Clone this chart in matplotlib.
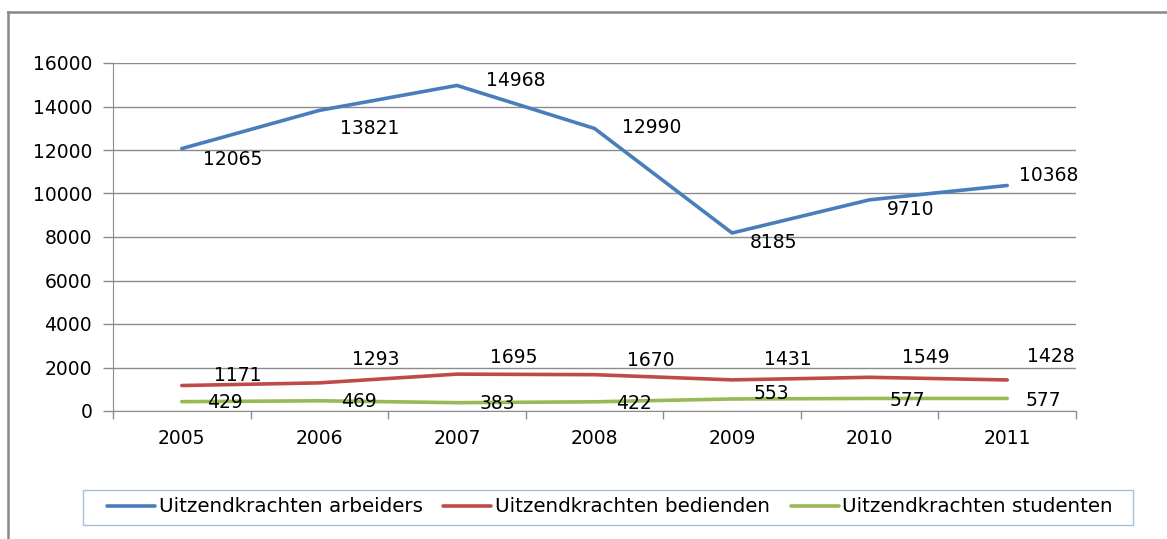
import matplotlib.pyplot as plt
from matplotlib.lines import Line2D
from matplotlib.patches import Rectangle

# data
years = ["2005", "2006", "2007", "2008", "2009", "2010", "2011"]
arbeiders = [12065, 13821, 14968, 12990, 8185, 9710, 10368]
bedienden = [1171, 1293, 1695, 1670, 1431, 1549, 1428]
studenten = [429, 469, 383, 422, 553, 577, 577]

# label offsets in pixels (dx, dy), dy positive = up
off_arb = [(51, -11), (50, -18), (59, 5), (57, 1), (41, -10), (41, -10), (41, 10)]
off_bed = [(56, 10), (56, 23), (57, 17), (56, 14), (56, 20), (56, 20), (44, 23)]
off_stu = [(43, -1), (40, -1), (40, -1), (39, -2), (39, 5), (38, -2), (36, -2)]

blue = "#4a7ebb"
red = "#be4b48"
green = "#98b954"
grid_col = "#8c8c8c"
fs = 13.5

plt.rcParams['font.family'] = ['DejaVu Sans']

fig = plt.figure(figsize=(11.67, 5.39), dpi=100)
ax = fig.add_axes([113 / 1167, 1 - 411 / 539, (1076 - 113) / 1167, 348 / 539])

x = list(range(len(years)))
series = [
    ("Uitzendkrachten arbeiders", arbeiders, blue, off_arb),
    ("Uitzendkrachten bedienden", bedienden, red, off_bed),
    ("Uitzendkrachten studenten", studenten, green, off_stu),
]
for name, vals, col, offs in series:
    ax.plot(x, vals, color=col, lw=2.6, label=name, solid_capstyle="round", zorder=3)
    for xi, v, (dx, dy) in zip(x, vals, offs):
        ax.annotate(str(v), (xi, v), xytext=(dx * 0.72, dy * 0.72), textcoords="offset points",
                    ha="center", va="center", fontsize=fs, color="#000000", zorder=4)

ax.set_xlim(-0.5, len(years) - 0.5)
ax.set_ylim(0, 16000)
ax.set_yticks(range(0, 16001, 2000))
ax.set_xticks(x)
ax.set_xticklabels(years)
ax.set_xticks([i - 0.5 for i in range(len(years) + 1)], minor=True)
ax.tick_params(axis="x", which="major", length=0, pad=13, labelsize=fs)
ax.tick_params(axis="x", which="minor", length=6, color=grid_col, width=1)
ax.tick_params(axis="y", length=7, color=grid_col, width=1, pad=8, labelsize=fs)

ax.yaxis.grid(True, color=grid_col, lw=1)
ax.set_axisbelow(True)
for s in ["top", "right"]:
    ax.spines[s].set_visible(False)
ax.spines["left"].set_color(grid_col)
ax.spines["bottom"].set_color(grid_col)

# outer chart frame (cut off at right and bottom)
fig.add_artist(Line2D([8 / 1167, 8 / 1167], [0, 1 - 12 / 539], color="#888888", lw=1.8))
fig.add_artist(Line2D([8 / 1167, 1], [1 - 12 / 539, 1 - 12 / 539], color="#888888", lw=1.8))

# legend box
fig.add_artist(Rectangle((83 / 1167, 1 - 525 / 539), (1133 - 83) / 1167, 35 / 539,
                         transform=fig.transFigure, fill=False, edgecolor="#a8bfdc", lw=1))
leg = fig.legend(loc="center", ncol=3, bbox_to_anchor=(610 / 1167, 1 - 507 / 539),
                 fontsize=14.3, frameon=False, handlelength=2.4, handletextpad=0.2,
                 columnspacing=1.05, borderaxespad=0)

fig.savefig("out.png", dpi=100)
